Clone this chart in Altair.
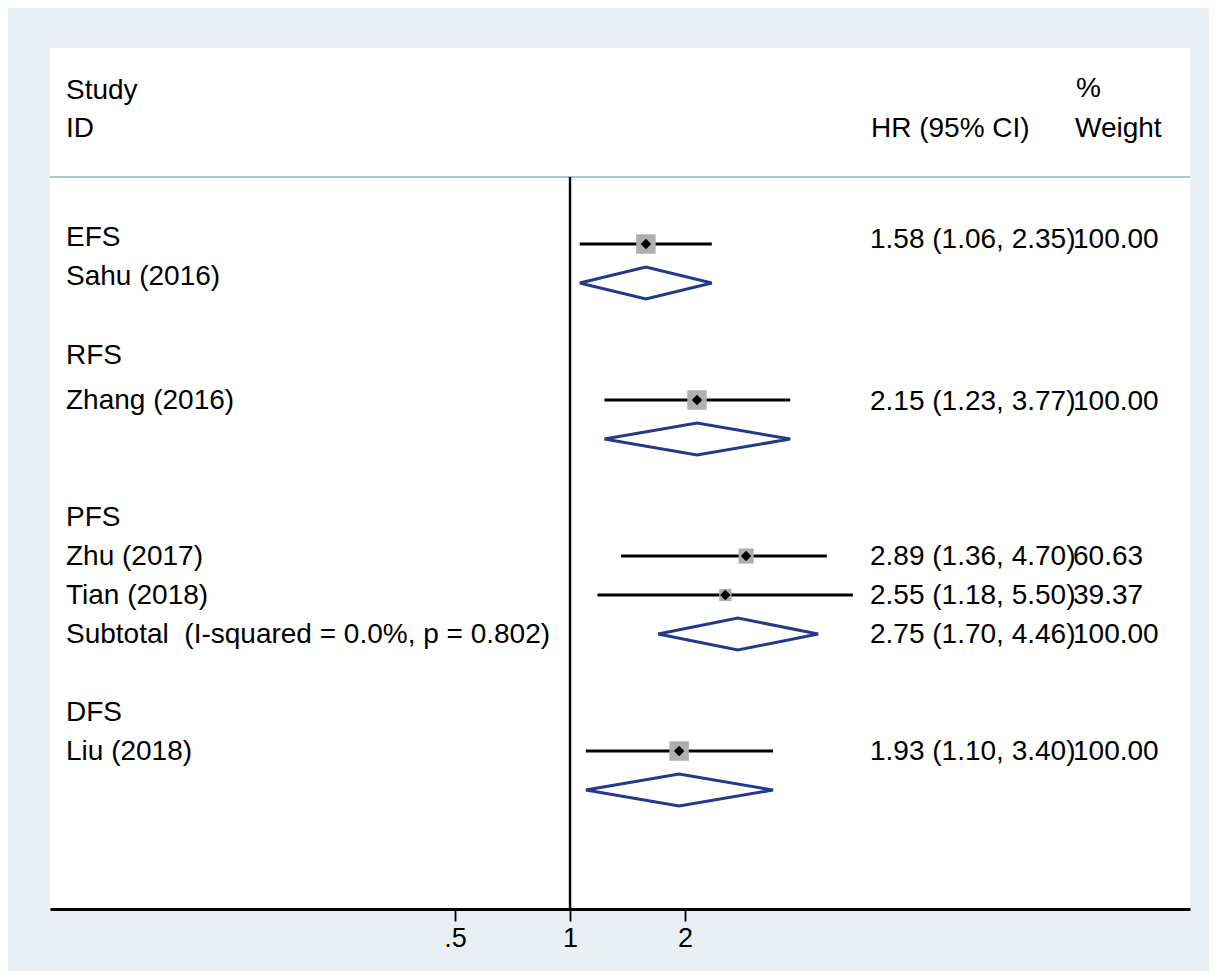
import altair as alt
import pandas as pd

# ---------------- data ----------------
label_text = ["EFS", "Sahu (2016)", "RFS", "Zhang (2016)", "PFS", "Zhu (2017)",
              "Tian (2018)", "Subtotal\u00a0 (I-squared = 0.0%, p = 0.802)", "DFS", "Liu (2018)"]
label_rows = [-0.18, 0.83, 2.85, 4.0, 7.0, 8.0, 9.0, 10.0, 12.0, 13.0]

studies = ["Sahu (2016)", "Zhang (2016)", "Zhu (2017)", "Tian (2018)", "Liu (2018)"]
study_hr = [1.58, 2.15, 2.89, 2.55, 1.93]
study_lo = [1.06, 1.23, 1.36, 1.18, 1.10]
study_hi = [2.35, 3.77, 4.70, 5.50, 3.40]
study_weight = [100.00, 100.00, 60.63, 39.37, 100.00]
study_rows = [0, 4, 8, 9, 13]

groups = ["EFS", "RFS", "PFS", "DFS"]
pooled_hr = [1.58, 2.15, 2.75, 1.93]
pooled_lo = [1.06, 1.23, 1.70, 1.10]
pooled_hi = [2.35, 3.77, 4.46, 3.40]
pooled_rows = [1, 5, 10, 14]

# text column (HR and weight) rows, including the PFS subtotal
hr_col_hr = [1.58, 2.15, 2.89, 2.55, 2.75, 1.93]
hr_col_lo = [1.06, 1.23, 1.36, 1.18, 1.70, 1.10]
hr_col_hi = [2.35, 3.77, 4.70, 5.50, 4.46, 3.40]
hr_col_w = [100.00, 100.00, 60.63, 39.37, 100.00, 100.00]
hr_col_rows = [-0.12, 4.02, 8.0, 9.0, 10.0, 13.0]

x_ticks = [0.5, 1, 2]

# ---------------- layout ----------------
W, H = 1140, 861
X_DOMAIN = [0.04352, 41.97]
Y_DOMAIN = [-5.026, 17.05]
SEP_ROW = -1.72
FONT = "Liberation Sans"
FS = 28
INK = "#000000"

xs = alt.Scale(type="log", domain=X_DOMAIN, nice=False, zero=False)
ys = alt.Scale(domain=Y_DOMAIN, reverse=True, nice=False, zero=False)

studies_df = pd.DataFrame({"study": studies, "hr": study_hr, "lo": study_lo,
                           "hi": study_hi, "w": study_weight, "row": study_rows})

dia_rows = []
for g, e, l, h, r in zip(groups, pooled_hr, pooled_lo, pooled_hi, pooled_rows):
    pts = [(l, r), (e, r - 0.41), (h, r), (e, r + 0.41), (l, r)]
    for i, (px, py) in enumerate(pts):
        dia_rows.append({"g": g, "o": i, "x": px, "row": py})
dia_df = pd.DataFrame(dia_rows)

labels_df = pd.DataFrame({"t": label_text, "row": label_rows})
hrtext_df = pd.DataFrame({
    "t": [f"{e:.2f} ({l:.2f}, {h:.2f})" for e, l, h in zip(hr_col_hr, hr_col_lo, hr_col_hi)],
    "wt": [f"{w:.2f}" for w in hr_col_w],
    "row": hr_col_rows,
})
header_df = pd.DataFrame({
    "t": ["Study", "ID", "HR (95% CI)", "%", "Weight"],
    "row": [-3.96, -2.97, -2.97, -3.99, -2.97],
    "px": [16, 16, 821, 1026, 1025],
})

xaxis = alt.Axis(values=x_ticks, title=None, grid=False,
                 labelExpr="datum.value == 0.5 ? '.5' : toString(datum.value)",
                 domainColor=INK, domainWidth=2.8, tickColor=INK,
                 tickWidth=1.8, tickSize=12, labelFont=FONT, labelFontSize=27,
                 labelColor=INK, labelPadding=4, labelFlush=False)

# separator under the header
sep = alt.Chart(pd.DataFrame({"row": [SEP_ROW]})).mark_rule(
    color="#aac6ce", strokeWidth=2
).encode(y=alt.Y("row:Q", scale=ys, axis=None), x=alt.value(0), x2=alt.value(W))

# null line at HR = 1
null_line = alt.Chart(pd.DataFrame({"x": [1.0], "row": [SEP_ROW]})).mark_rule(
    color=INK, strokeWidth=2.4
).encode(x=alt.X("x:Q", scale=xs, axis=xaxis), y=alt.Y("row:Q", scale=ys, axis=None),
         y2=alt.value(H))

squares = alt.Chart(studies_df).mark_point(
    shape="square", filled=True, color="#afafaf", opacity=1, strokeWidth=0
).encode(x=alt.X("hr:Q", scale=xs), y=alt.Y("row:Q", scale=ys),
         size=alt.Size("w:Q", scale=alt.Scale(domain=[0, 100], range=[0, 380]), legend=None))

ci = alt.Chart(studies_df).mark_rule(color=INK, strokeWidth=3).encode(
    x=alt.X("lo:Q", scale=xs), x2="hi:Q", y=alt.Y("row:Q", scale=ys))

centers = alt.Chart(studies_df).mark_point(
    shape="diamond", filled=True, color=INK, opacity=1, size=110, strokeWidth=0
).encode(x=alt.X("hr:Q", scale=xs), y=alt.Y("row:Q", scale=ys))

diamonds = alt.Chart(dia_df).mark_line(
    color="#23398a", strokeWidth=3, strokeJoin="miter"
).encode(x=alt.X("x:Q", scale=xs), y=alt.Y("row:Q", scale=ys),
         detail="g:N", order="o:Q")

left_text = alt.Chart(labels_df).mark_text(
    align="left", baseline="middle", font=FONT, fontSize=FS, color=INK, dy=1
).encode(x=alt.value(16), y=alt.Y("row:Q", scale=ys), text="t:N")

hr_text = alt.Chart(hrtext_df).mark_text(
    align="left", baseline="middle", font=FONT, fontSize=FS, color=INK, dy=1
).encode(x=alt.value(820), y=alt.Y("row:Q", scale=ys), text="t:N")

w_text = alt.Chart(hrtext_df).mark_text(
    align="left", baseline="middle", font=FONT, fontSize=FS, color=INK, dy=1
).encode(x=alt.value(1023), y=alt.Y("row:Q", scale=ys), text="wt:N")

head_text = alt.Chart(header_df).mark_text(
    align="left", baseline="middle", font=FONT, fontSize=FS, color=INK, dy=1
).encode(x=alt.X("px:Q", scale=None), y=alt.Y("row:Q", scale=ys), text="t:N")

chart = alt.layer(
    sep, null_line, ci, squares, centers, diamonds, left_text, hr_text, w_text, head_text
).properties(
    width=W, height=H,
    autosize=alt.AutoSizeParams(type="none"),
    padding={"left": 42, "top": 40, "right": 19, "bottom": 62},
    background="#e8f0f3",
).configure_view(fill="white", stroke=None)

chart.save("out.html", embed_options={"renderer": "svg", "actions": False})
